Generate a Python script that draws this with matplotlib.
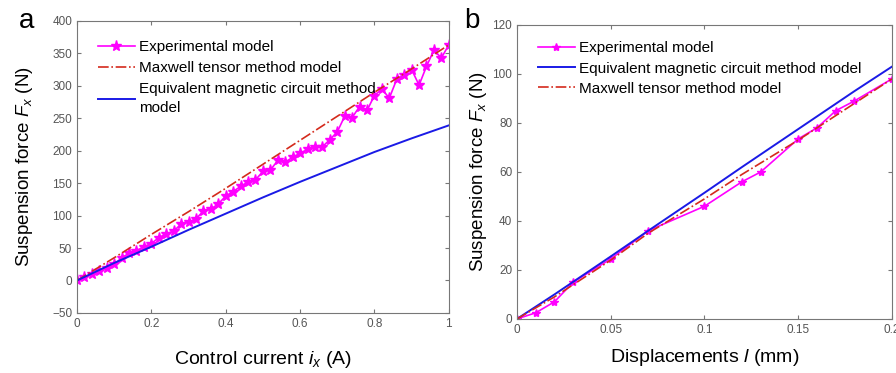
import numpy as np
import matplotlib.pyplot as plt

plt.rcParams['font.family'] = ['Liberation Sans', 'DejaVu Sans']
plt.rcParams['mathtext.fontset'] = 'custom'
plt.rcParams['mathtext.rm'] = 'Liberation Sans'
plt.rcParams['mathtext.it'] = 'Liberation Sans:italic'

# panel a data
current = [0.00, 0.02, 0.04, 0.06, 0.08, 0.10, 0.12, 0.14, 0.16, 0.18,
           0.20, 0.22, 0.24, 0.26, 0.28, 0.30, 0.32, 0.34, 0.36, 0.38,
           0.40, 0.42, 0.44, 0.46, 0.48, 0.50, 0.52, 0.54, 0.56, 0.58,
           0.60, 0.62, 0.64, 0.66, 0.68, 0.70, 0.72, 0.74, 0.76, 0.78,
           0.80, 0.82, 0.84, 0.86, 0.88, 0.90, 0.92, 0.94, 0.96, 0.98, 1.00]
exp_a = [0, 5, 10, 15, 20, 25, 35, 42, 46, 52,
         57, 66, 72, 76, 87, 90, 95, 107, 110, 118,
         130, 137, 145, 152, 155, 168, 170, 185, 182, 190,
         196, 202, 205, 206, 217, 229, 253, 251, 268, 262,
         285, 295, 281, 310, 317, 325, 301, 330, 355, 343, 363]
model_x_a = [0.0, 0.1, 0.2, 0.3, 0.4, 0.5, 0.6, 0.7, 0.8, 0.9, 1.0]
maxwell_a = [0, 35, 71, 106, 142, 179, 216, 253, 290, 326, 363]
circuit_a = [0, 27, 52, 78, 103, 128, 152, 175, 198, 219, 239]

# panel b data
disp = [0.0, 0.01, 0.02, 0.03, 0.05, 0.07, 0.10, 0.12, 0.13, 0.15, 0.16, 0.17, 0.18, 0.20]
exp_b = [0, 2.5, 7, 15, 24.5, 36, 46, 56, 60, 73.5, 78, 85, 89, 98]
model_x_b = [0.0, 0.02, 0.05, 0.07, 0.10, 0.12, 0.15, 0.18, 0.20]
circuit_b = [0, 10, 25.5, 36, 51.5, 62, 77.5, 93, 103]
maxwell_b = [0, 9, 24, 35, 49, 59, 73, 88, 98]

magenta = '#ff00ff'
red = '#d42a1c'
blue = '#1a1ae6'
grey = '#555555'

fig = plt.figure(figsize=(8.96, 3.73), dpi=100)
ax1 = fig.add_axes([0.0859, 0.161, 0.415, 0.783])
ax2 = fig.add_axes([0.577, 0.145, 0.4185, 0.788])


def style(ax):
    for s in ax.spines.values():
        s.set_color('#777777')
    ax.tick_params(direction='in', top=True, right=True, labelsize=8.5,
                   labelcolor=grey, color='#777777', length=3)


ax1.plot(current, exp_a, color=magenta, marker='*', markersize=8, lw=1.2,
         label='Experimental model')
ax1.plot(model_x_a, maxwell_a, color=red, ls='-.', lw=1.2,
         label='Maxwell tensor method model')
ax1.plot(model_x_a, circuit_a, color=blue, lw=1.4,
         label='Equivalent magnetic circuit method\nmodel')
ax1.set_xlim(0, 1)
ax1.set_ylim(-50, 400)
ax1.set_xticks([0, 0.2, 0.4, 0.6, 0.8, 1])
ax1.set_xticklabels(['0', '0.2', '0.4', '0.6', '0.8', '1'])
ax1.set_yticks(range(-50, 401, 50))
style(ax1)
ax1.set_xlabel('Control current $i_x$ (A)', fontsize=14, labelpad=14)
ax1.set_ylabel('Suspension force $F_x$ (N)', fontsize=13.5, labelpad=12)
leg1 = ax1.legend(loc='upper left', bbox_to_anchor=(0.04, 0.955), frameon=False,
                  fontsize=11, handlelength=2.4, handletextpad=0.3, labelspacing=0.45,
                  borderaxespad=0)
for t in leg1.get_texts():
    t.set_linespacing(1.45)

ax2.plot(disp, exp_b, color=magenta, marker='*', markersize=6, lw=1.2,
         label='Experimental model')
ax2.plot(model_x_b, circuit_b, color=blue, lw=1.4,
         label='Equivalent magnetic circuit method model')
ax2.plot(model_x_b, maxwell_b, color=red, ls='-.', lw=1.2,
         label='Maxwell tensor method model')
ax2.set_xlim(0, 0.2)
ax2.set_ylim(0, 120)
ax2.set_xticks([0, 0.05, 0.1, 0.15, 0.2])
ax2.set_xticklabels(['0', '0.05', '0.1', '0.15', '0.2'])
ax2.set_yticks(range(0, 121, 20))
style(ax2)
ax2.set_xlabel('Displacements $l$ (mm)', fontsize=14, labelpad=8)
ax2.set_ylabel('Suspension force $F_x$ (N)', fontsize=13.5, labelpad=2)
ax2.legend(loc='upper left', bbox_to_anchor=(0.04, 0.965), frameon=False,
           fontsize=11, handlelength=2.4, handletextpad=0.3, labelspacing=0.4,
           borderaxespad=0)

fig.text(0.021, 0.925, 'a', fontsize=20)
fig.text(0.518, 0.925, 'b', fontsize=20)

fig.savefig('out.png', dpi=100)
